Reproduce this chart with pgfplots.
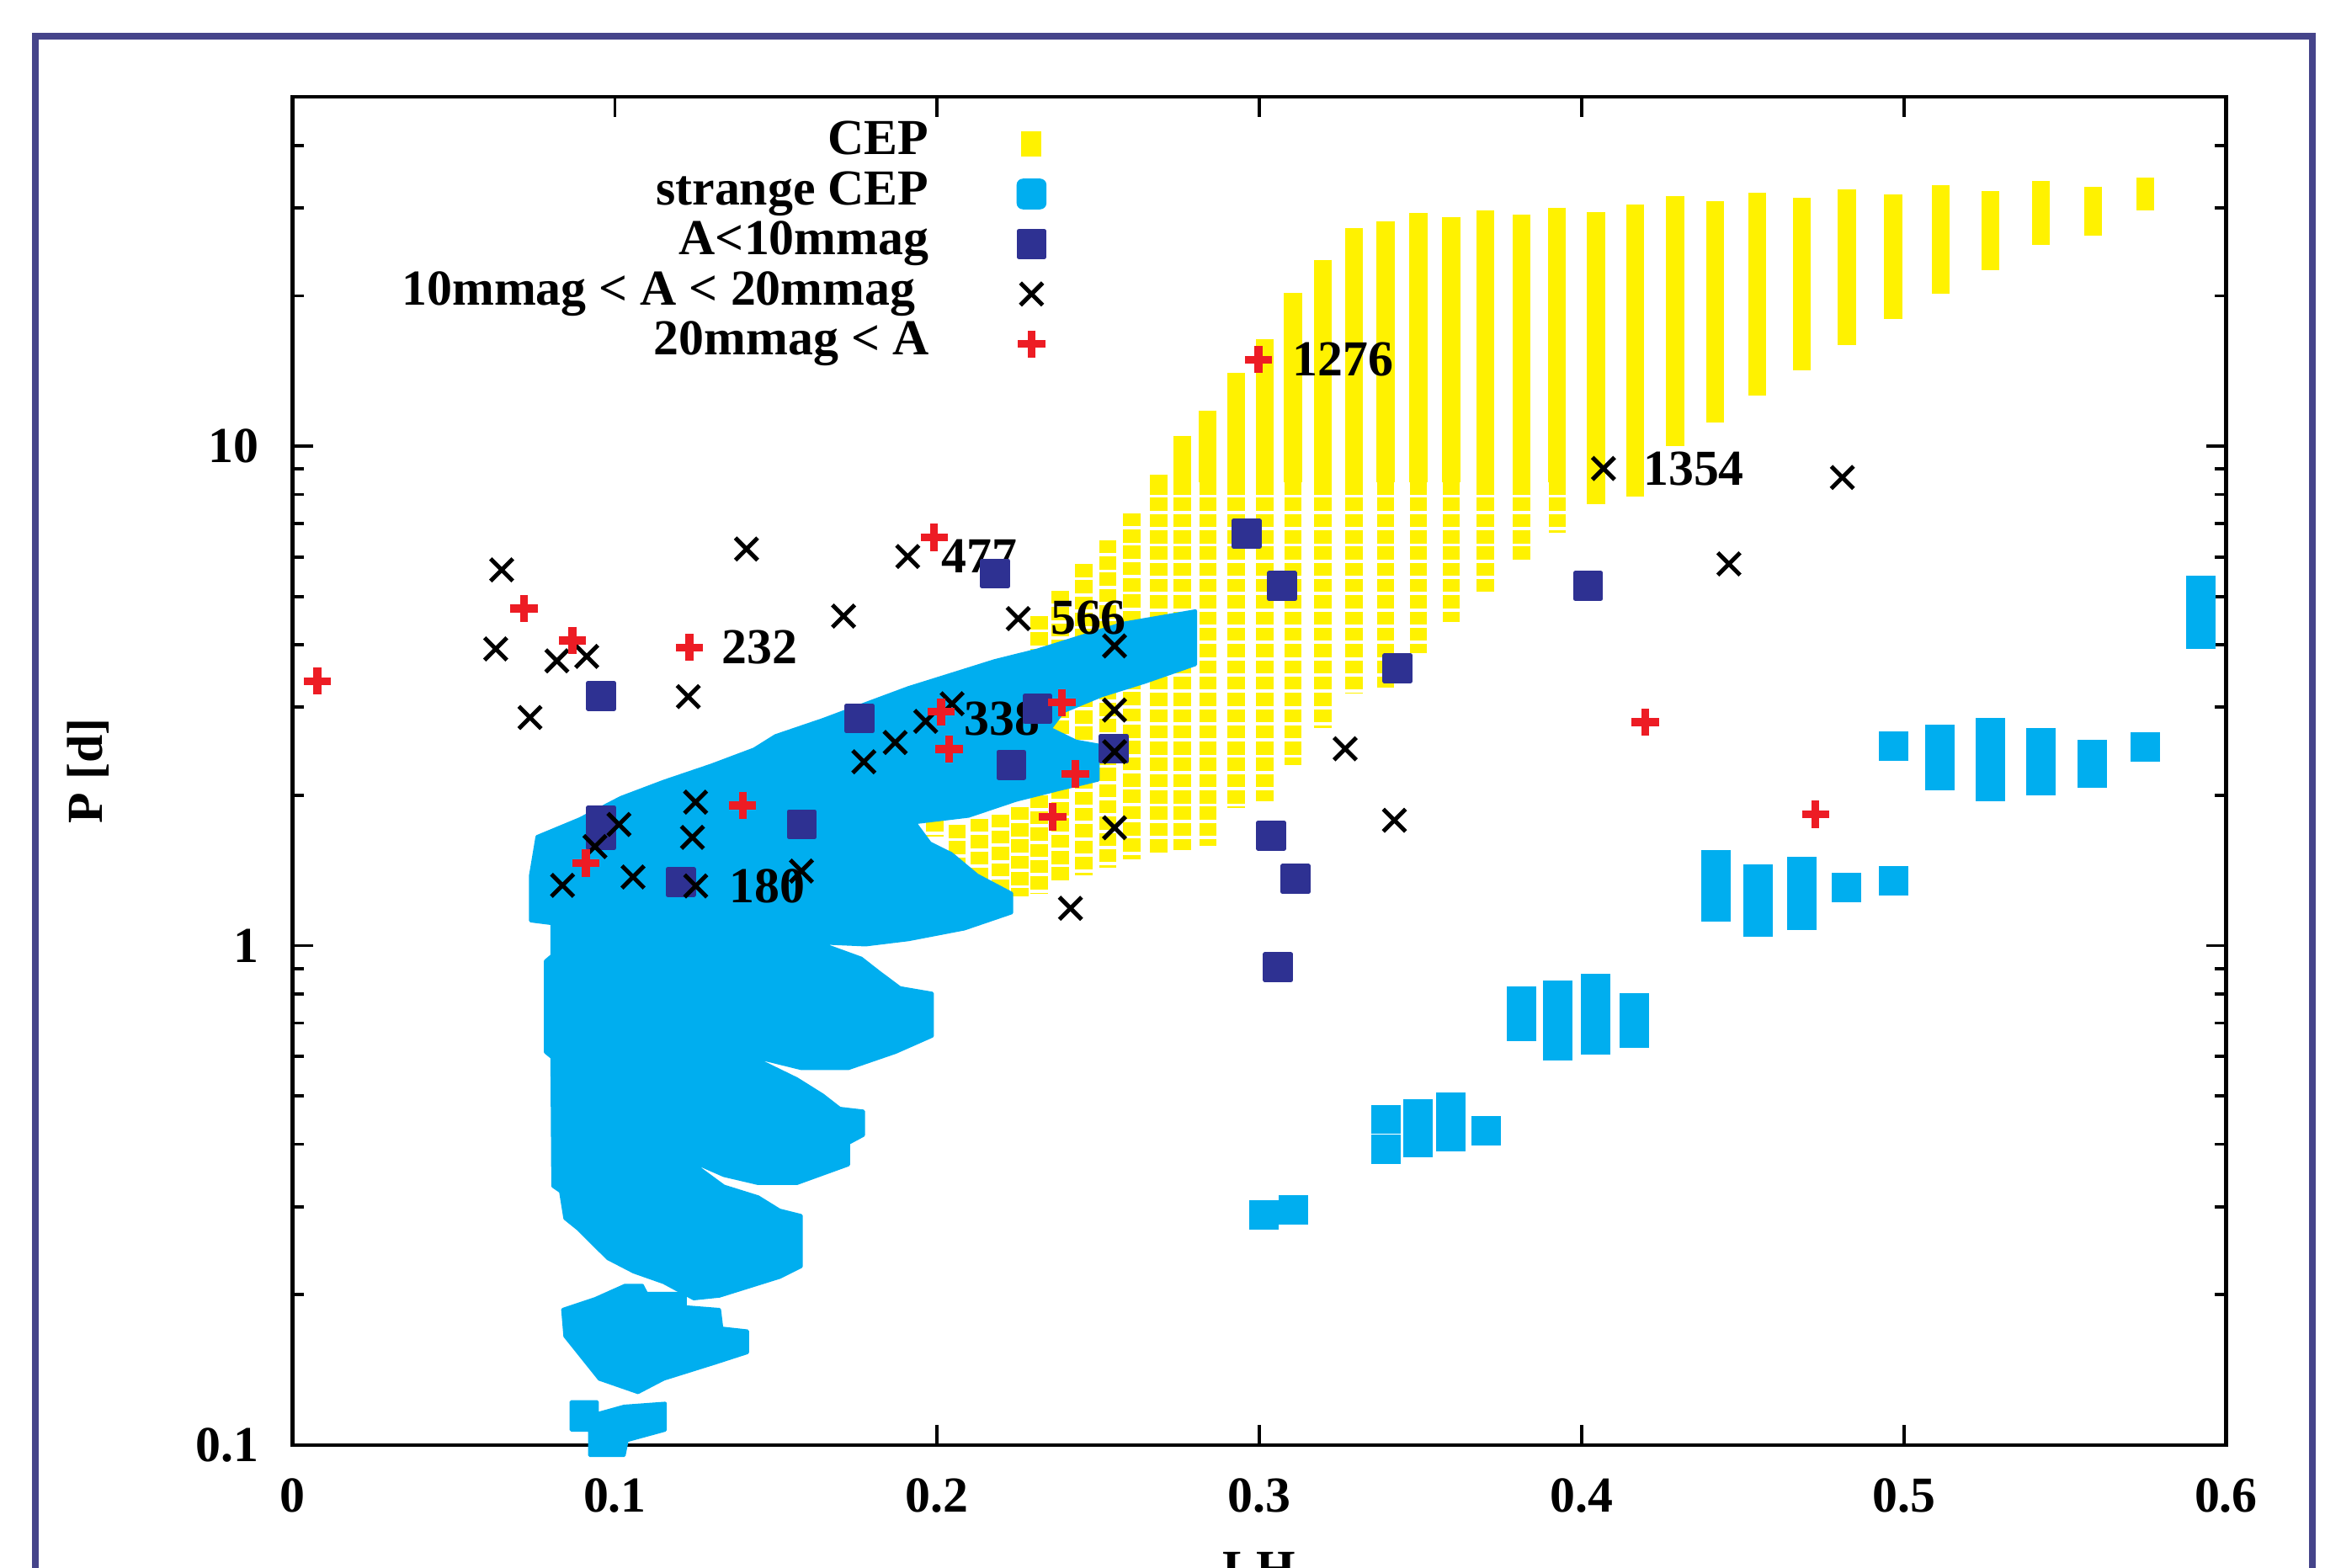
\documentclass[border=0pt]{standalone}
\usepackage{fontspec}
\setmainfont{Liberation Serif}
\usepackage{pgfplots}
\pgfplotsset{compat=1.18}

\definecolor{cepyellow}{RGB}{255,242,0}
\definecolor{strangecyan}{RGB}{0,174,239}
\definecolor{lowA}{RGB}{46,49,146}
\definecolor{highA}{RGB}{237,28,36}
\definecolor{framecol}{RGB}{69,68,138}
\newcommand{\lbl}{\fontsize{9.6}{11}\selectfont\bfseries}

\begin{document}
\begin{tikzpicture}
\useasboundingbox (0,0) rectangle (15.68,10.5);
\clip (0,0) rectangle (15.68,10.5);
\draw[framecol, line width=0.045cm] (0.235,-1) rectangle (15.49,10.256);
\begin{axis}[
  at={(1.96cm,0.82cm)}, anchor=south west,
  scale only axis, width=12.95cm, height=9.03cm,
  xmin=0, xmax=0.6, ymode=log, ymin=0.1, ymax=50,
  clip=false,
  xtick={0,0.1,0.2,0.3,0.4,0.5,0.6},
  xticklabels={0,0.1,0.2,0.3,0.4,0.5,0.6},
  minor xtick={},
  ytick={0.1,1,10}, yticklabels={0.1,1,10},
  minor ytick={0.2,0.3,0.4,0.5,0.6,0.7,0.8,0.9,2,3,4,5,6,7,8,9,20,30,40},
  tick align=inside, major tick length=0.135cm, minor tick length=0.075cm,
  axis line style={line width=0.7pt},
  tick style={line width=0.6pt, black},
  xticklabel style={font=\lbl, inner sep=0pt, yshift=-0.22cm},
  yticklabel style={font=\lbl, inner sep=0pt, xshift=-0.22cm},
  xlabel={LH}, ylabel={P [d]},
  xlabel style={font=\lbl, at={(axis description cs:0.5,0)}, anchor=north, inner sep=0pt, yshift=-0.71cm},
  ylabel style={font=\lbl, at={(axis description cs:-0.1058,0.5)}, anchor=center, inner sep=0pt},
  legend style={at={(axis description cs:0.4185,0.9923)}, anchor=north east,
    draw=none, fill=none, font=\lbl, row sep=0pt, column sep=0.33cm,
    nodes={inner sep=0pt, text height=0.24cm, text depth=0.095cm}},
  legend cell align=right, legend plot pos=right,
  unbounded coords=jump,
]

% CEP: columns of the model grid, lower parts (top and bottom of each column)
\addplot[draw=cepyellow, line width=3.3pt, dash pattern=on 2.5pt off 0.6pt,
  legend image code/.code={\path[fill=cepyellow, draw=none] (0.232cm,-0.085cm) rectangle (0.368cm,0.085cm); \path (0cm,0cm) (0.6cm,0cm);}]
coordinates {
(0.19923,1.7941) (0.19923,1.6517) (0.19923,nan)
(0.20618,1.7454) (0.20618,1.4595) (0.20618,nan)
(0.21313,1.7941) (0.21313,1.3441) (0.21313,nan)
(0.21961,1.8315) (0.21961,1.2721) (0.21961,nan)
(0.22564,1.8955) (0.22564,1.2547) (0.22564,nan)
(0.23166,4.5678) (0.23166,1.2721) (0.23166,nan)
(0.23815,5.1341) (0.23815,1.3350) (0.23815,nan)
(0.24556,5.8101) (0.24556,1.3817) (0.24556,nan)
(0.25297,6.4848) (0.25297,1.4300) (0.25297,nan)
(0.26039,7.3390) (0.26039,1.4902) (0.26039,nan)
(0.26873,8.5) (0.26873,1.5212) (0.26873,nan)
(0.27614,8.5) (0.27614,1.5529) (0.27614,nan)
(0.28402,8.5) (0.28402,1.5849) (0.28402,nan)
(0.29282,8.5) (0.29282,1.8826) (0.29282,nan)
(0.30162,8.5) (0.30162,1.9484) (0.30162,nan)
(0.31042,8.5) (0.31042,2.2973) (0.31042,nan)
(0.31969,8.5) (0.31969,2.7282) (0.31969,nan)
(0.32942,8.5) (0.32942,3.1949) (0.32942,nan)
(0.33915,8.5) (0.33915,3.2839) (0.33915,nan)
(0.34934,8.5) (0.34934,3.8469) (0.34934,nan)
(0.35954,8.5) (0.35954,4.4440) (0.35954,nan)
(0.37019,8.5) (0.37019,5.0989) (0.37019,nan)
(0.38131,8.5) (0.38131,5.8502) (0.38131,nan)
(0.39243,8.5) (0.39243,6.7115)
};
\addlegendentry{CEP}

% strange CEP: main region
\addplot[fill=strangecyan, draw=strangecyan, line width=0.6pt, line join=round,
  legend image code/.code={\path[fill=strangecyan, draw=none, rounded corners=1.2pt] (0.2cm,-0.103cm) rectangle (0.4cm,0.103cm); \path (0cm,0cm) (0.6cm,0cm);}]
coordinates {
(0.07585,1.6527) (0.08914,1.7941) (0.10184,1.9790) (0.11514,2.1321) (0.12982,2.2957)
(0.14317,2.4731) (0.14979,2.6303) (0.16448,2.8330) (0.17782,3.0516) (0.19112,3.2839)
(0.20446,3.4937) (0.21776,3.7170) (0.23110,3.9052) (0.24445,4.1546) (0.25779,4.4195)
(0.28017,4.6790) (0.28017,3.6537) (0.26446,3.3686) (0.25112,3.1667) (0.23912,2.9404)
(0.23514,2.7185) (0.24311,2.5657) (0.24996,2.5203) (0.24996,2.1453) (0.23778,2.0541)
(0.22448,1.9546) (0.20979,1.8164) (0.19311,1.7632) (0.19779,1.6046) (0.20446,1.5272)
(0.21248,1.3832) (0.22314,1.2721) (0.22314,1.1634) (0.20845,1.0800) (0.19112,1.0279)
(0.17782,1.0034) (0.16712,1.0104) (0.16313,1.0138) (0.17648,0.94326) (0.18181,0.88662)
(0.18848,0.82326) (0.19849,0.80257) (0.19849,0.65888) (0.18713,0.61154) (0.17249,0.56749)
(0.15781,0.56749) (0.14581,0.59293) (0.14381,0.59293) (0.15646,0.54095) (0.16448,0.50207)
(0.16981,0.47210) (0.17713,0.46613) (0.17713,0.41716) (0.17249,0.40194) (0.17249,0.36403)
(0.15646,0.33395) (0.14446,0.33395) (0.13381,0.34658) (0.12250,0.37315) (0.13381,0.32984)
(0.14446,0.31392) (0.15114,0.29524) (0.15781,0.28801) (0.15781,0.22771) (0.15114,0.21670)
(0.14048,0.20624) (0.13246,0.19873) (0.12449,0.19629) (0.11514,0.21155) (0.10582,0.22213)
(0.09781,0.23623) (0.08849,0.27100) (0.08451,0.28427) (0.08317,0.32176) (0.08076,0.32984)
(0.08048,0.59704) (0.07849,0.61154) (0.07849,0.93167) (0.08048,0.95499) (0.08048,1.1070)
(0.07385,1.1208) (0.07385,1.3832)
} -- cycle;
\addlegendentry{strange CEP}

\addplot[fill=strangecyan, draw=strangecyan, line width=0.6pt, line join=round, forget plot]
coordinates {
(0.08382,0.18679) (0.09382,0.19629) (0.10314,0.20879) (0.10851,0.20879) (0.10981,0.20119)
(0.12181,0.20119) (0.12181,0.18911) (0.13246,0.18679) (0.13316,0.17141) (0.14113,0.16918)
(0.14113,0.15314) (0.13112,0.14595) (0.11514,0.13550) (0.10717,0.12737) (0.09517,0.13550)
(0.08451,0.16516)
} -- cycle;
\addplot[fill=strangecyan, draw=strangecyan, line width=0.6pt, line join=round, forget plot]
coordinates {
(0.08646,0.12206) (0.09452,0.12206) (0.09452,0.11552) (0.10286,0.11956) (0.11560,0.12122)
(0.11560,0.10711) (0.10378,0.10209) (0.10286,0.095301) (0.09220,0.095301) (0.09220,0.10711)
(0.08646,0.10711)
} -- cycle;

% CEP: upper parts of the columns, where the grid points merge
\addplot[draw=cepyellow, line width=3.4pt, forget plot]
coordinates {
(0.26873,8.7775) (0.26873,8.45) (0.26873,nan)
(0.27614,10.493) (0.27614,8.45) (0.27614,nan)
(0.28402,11.793) (0.28402,8.45) (0.28402,nan)
(0.29282,14.007) (0.29282,8.45) (0.29282,nan)
(0.30162,16.403) (0.30162,8.45) (0.30162,nan)
(0.31042,20.300) (0.31042,8.45) (0.31042,nan)
(0.31969,23.613) (0.31969,8.45) (0.31969,nan)
(0.32942,27.283) (0.32942,8.45) (0.32942,nan)
(0.33915,28.237) (0.33915,8.45) (0.33915,nan)
(0.34934,29.325) (0.34934,8.45) (0.34934,nan)
(0.35954,28.726) (0.35954,8.45) (0.35954,nan)
(0.37019,29.689) (0.37019,8.45) (0.37019,nan)
(0.38131,29.022) (0.38131,8.45) (0.38131,nan)
(0.39243,30.038) (0.39243,8.45) (0.39243,nan)
(0.40448,29.426) (0.40448,7.6481) (0.40448,nan)
(0.41652,30.517) (0.41652,7.9155) (0.41652,nan)
(0.42903,31.724) (0.42903,10.000) (0.42903,nan)
(0.44154,30.970) (0.44154,11.163) (0.44154,nan)
(0.45452,32.163) (0.45452,12.635) (0.45452,nan)
(0.46842,31.399) (0.46842,14.201) (0.46842,nan)
(0.48232,32.676) (0.48232,15.958) (0.48232,nan)
(0.49668,31.943) (0.49668,17.941) (0.49668,nan)
(0.51151,33.289) (0.51151,20.161) (0.51151,nan)
(0.52679,32.386) (0.52679,22.505) (0.52679,nan)
(0.54255,33.982) (0.54255,25.293) (0.54255,nan)
(0.55876,33.060) (0.55876,26.357) (0.55876,nan)
(0.57498,34.452) (0.57498,29.628)
};

% strange CEP: isolated groups
\addplot[only marks, mark=square*, mark size=2.6pt, forget plot,
  mark options={fill=strangecyan, draw=strangecyan, line width=0.4pt, rounded corners=1pt}]
coordinates {
(0.59226,5.1376) (0.59226,4.6421) (0.59226,4.1947)
(0.49686,2.5075)
(0.51127,2.5872) (0.51127,2.3818) (0.51127,2.1930)
(0.52684,2.6649) (0.52684,2.4540) (0.52684,2.2588) (0.52684,2.0793)
(0.54246,2.5467) (0.54246,2.3356) (0.54246,2.1417)
(0.55844,2.4138) (0.55844,2.2157)
(0.57484,2.4972)
(0.44168,1.4494) (0.44168,1.3165) (0.44168,1.1949)
(0.45470,1.3580) (0.45470,1.2307) (0.45470,1.1155)
(0.46828,1.4072) (0.46828,1.2721) (0.46828,1.1489)
(0.48227,1.3056)
(0.49686,1.3486)
(0.38131,0.77442) (0.38131,0.68993)
(0.39271,0.79599) (0.39271,0.70868) (0.39271,0.63096)
(0.40429,0.81990) (0.40429,0.72844) (0.40429,0.64716)
(0.41629,0.75051) (0.41629,0.66704)
(0.33934,0.44872) (0.33934,0.39133)
(0.34934,0.46025) (0.34934,0.40276)
(0.35953,0.47437) (0.35953,0.41486)
(0.37033,0.42643)
(0.30144,0.28900)
(0.31066,0.29586)
};

% star numbers
\node[font=\lbl, anchor=west, inner sep=0pt] at (axis cs:0.30996,14.902) {1276};
\node[font=\lbl, anchor=west, inner sep=0pt] at (axis cs:0.41884,9.0217) {1354};
\node[font=\lbl, anchor=west, inner sep=0pt] at (axis cs:0.20108,6.0131) {477};
\node[font=\lbl, anchor=west, inner sep=0pt] at (axis cs:0.23490,4.5365) {566};
\node[font=\lbl, anchor=west, inner sep=0pt] at (axis cs:0.13297,3.9538) {232};
\node[font=\lbl, anchor=west, inner sep=0pt] at (axis cs:0.20803,2.8427) {338};
\node[font=\lbl, anchor=west, inner sep=0pt] at (axis cs:0.13529,1.3165) {180};

% A < 10 mmag
\addplot[only marks, mark=square*, mark size=2.45pt,
  mark options={fill=lowA, draw=lowA, line width=0.8pt, line join=round}]
coordinates {
(0.09572,3.16) (0.09572,1.7818) (0.09572,1.6631) (0.12046,1.34) (0.15799,1.75)
(0.17592,2.85) (0.21799,5.56) (0.22300,2.30) (0.23120,2.98) (0.25483,2.48)
(0.29606,6.68) (0.30704,5.25) (0.34286,3.59) (0.40202,5.25) (0.30366,1.66)
(0.31121,1.36) (0.30579,0.905)
};
\addlegendentry{A<10mmag}

% 10 mmag < A < 20 mmag
\addplot[only marks, mark=x, mark size=3.0pt, mark options={black, line width=0.8pt}]
coordinates {
(0.06486,5.6524) (0.06301,3.9268) (0.08201,3.7167) (0.09127,3.7941) (0.07367,2.8625)
(0.14085,6.2232) (0.19089,6.0131) (0.17097,4.5678) (0.22517,4.5147) (0.12278,3.1515)
(0.25506,3.9811) (0.40680,9.0217) (0.48093,8.6559) (0.44571,5.8100) (0.32664,2.4776)
(0.34193,1.7818) (0.24139,1.1875) (0.25506,1.7216) (0.25506,2.9627) (0.25506,2.4437)
(0.17727,2.3337) (0.18700,2.5502) (0.19645,2.8117) (0.20465,3.0495) (0.12505,1.9372)
(0.12408,1.6471) (0.10128,1.7478) (0.09382,1.5784) (0.08377,1.3201) (0.10564,1.3719)
(0.12510,1.3165) (0.15790,1.4101)
};
\addlegendentry{10mmag < A < 20mmag\hspace*{0.09cm}}

% 20 mmag < A
\addplot[only marks, mark=+, mark size=2.6pt, mark options={highA, line width=1.5pt}]
coordinates {
(0.00769,3.3849) (0.07181,4.7275) (0.08683,4.0836) (0.12315,3.9538) (0.19909,6.5661)
(0.29977,14.902) (0.13964,1.9082) (0.09104,1.4634) (0.20127,2.9380) (0.20377,2.4731)
(0.23875,3.0660) (0.24287,2.2074) (0.23583,1.8098) (0.41977,2.8000) (0.47259,1.8310)
};
\addlegendentry{20mmag < A}

\end{axis}
\end{tikzpicture}
\end{document}
